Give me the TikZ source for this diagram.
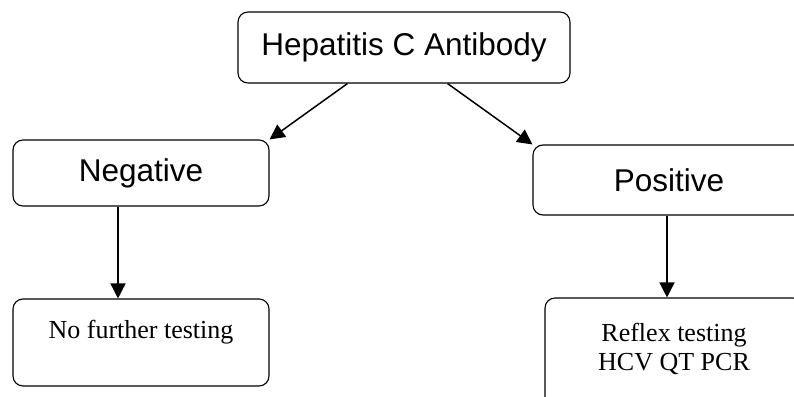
\documentclass[tikz,border=0pt]{standalone}
\usepackage{fontspec}
\setmainfont{Liberation Serif}
\setsansfont{Liberation Sans}
\usetikzlibrary{arrows.meta,positioning}

\begin{document}
\begin{tikzpicture}[x=1pt,y=-1pt,
		box/.style={draw, rounded corners=10pt, line width=1.1pt, inner sep=0pt},
		bigtext/.style={font=\sffamily\fontsize{31.5}{36}\selectfont},
		smalltext/.style={font=\fontsize{26}{29}\selectfont, align=center},
		arr/.style={-{Triangle[length=15pt,width=15pt]}, line width=1.5pt}]
		\useasboundingbox (0,0) rectangle (794,396);

		\node[box, bigtext, minimum width=332pt, minimum height=71pt] (hcv) at (404,47.5) {Hepatitis C Antibody};
		\node[box, bigtext, minimum width=256pt, minimum height=66pt] (neg) at (141,173) {Negative};
		\node[box, bigtext, minimum width=272pt, minimum height=70pt] (pos) at (669,180) {Positive};

		\node[box, smalltext, minimum width=256pt, text height=39pt, text depth=48pt] (nft) at (141,342.5) {No further testing};
		\node[box, smalltext, minimum width=258pt, text height=72pt, text depth=50pt] (rfx) at (674,359) {Reflex testing\\HCV QT PCR};

		\draw[arr] ([xshift=110pt]hcv.south west) -- (neg.north east);
		\draw[arr] ([xshift=-123pt]hcv.south east) -- (pos.north west);
		\draw[arr] ([xshift=-23pt]neg.south) -- ([xshift=-23pt]nft.north);
		\draw[arr] ([xshift=-2pt]pos.south) -- ([xshift=-2pt]pos.south |- rfx.north);
	\end{tikzpicture}
\end{document}
